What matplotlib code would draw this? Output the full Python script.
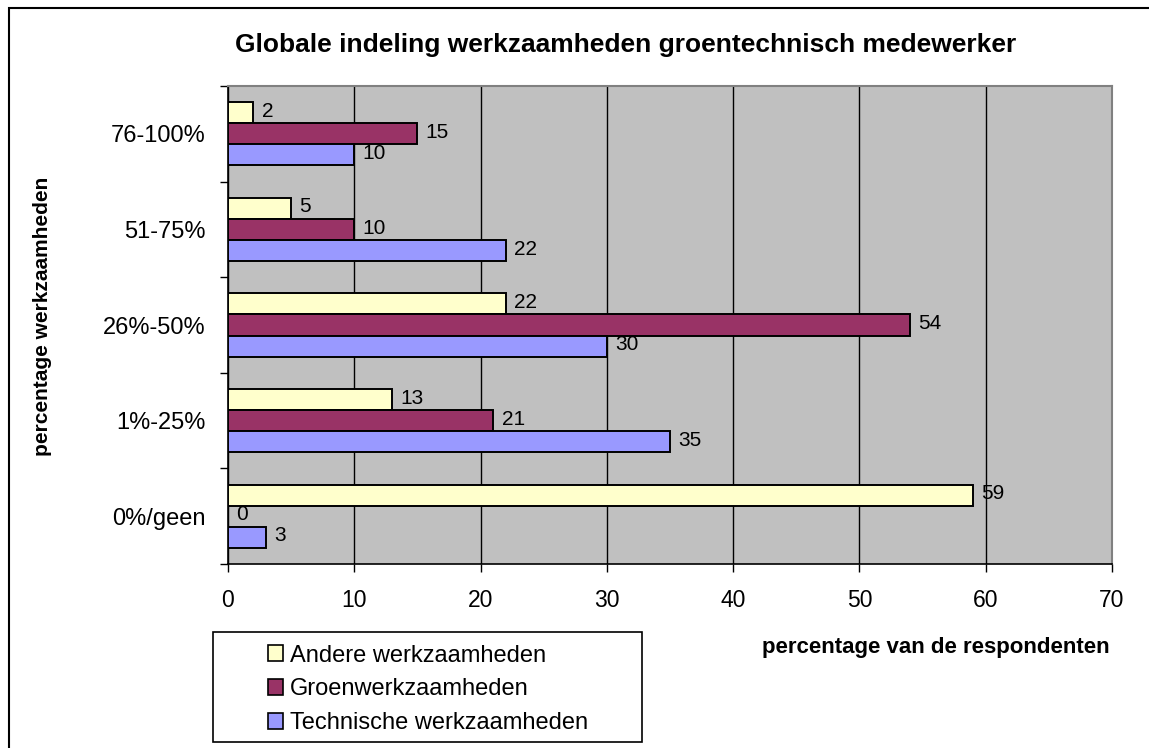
import numpy as np
import matplotlib
matplotlib.use("Agg")
import matplotlib.pyplot as plt
from matplotlib.patches import Rectangle, Patch

plt.rcParams["font.family"] = ["Liberation Sans", "DejaVu Sans"]

categories = ["0%/geen", "1%-25%", "26%-50%", "51-75%", "76-100%"]
andere = [59, 13, 22, 5, 2]
groen = [0, 21, 54, 10, 15]
technisch = [3, 35, 30, 22, 10]
series_names = ["Andere werkzaamheden", "Groenwerkzaamheden", "Technische werkzaamheden"]
colors = ["#FFFFCC", "#993366", "#9999FF"]

W, H = 1149, 748
fig = plt.figure(figsize=(W / 100, H / 100), dpi=100)
ax = fig.add_axes([228 / W, 1 - 564 / H, (1112 - 228) / W, (564 - 86) / H])
ax.set_facecolor("#C0C0C0")

y = np.arange(len(categories))
h = 0.22
for vals, off, col in zip([andere, groen, technisch], [h, 0, -h], colors):
    bars = ax.barh(y + off, vals, height=h, color=col, edgecolor="black", linewidth=1.4, zorder=3)
    for b, v in zip(bars, vals):
        ax.annotate(str(v), (b.get_width(), b.get_y() + b.get_height() / 2),
                    xytext=(6, 1), textcoords="offset points",
                    va="center", ha="left", fontsize=15, zorder=4)

ax.set_xlim(0, 70)
ax.set_ylim(-0.5, len(categories) - 0.5)
ax.set_xticks(np.arange(0, 71, 10))
ax.xaxis.grid(True, color="black", linewidth=1)
ax.set_axisbelow(True)
ax.tick_params(axis="x", direction="out", length=6, width=1, pad=12, labelsize=16.5)

ax.set_yticks(np.arange(-0.5, len(categories), 1))
ax.set_yticklabels([])
ax.set_yticks(y, minor=True)
ax.set_yticklabels(categories, minor=True)
ax.tick_params(axis="y", which="major", direction="out", length=6, width=1)
ax.tick_params(axis="y", which="minor", length=0, pad=16, labelsize=17)

for s in ["top", "right"]:
    ax.spines[s].set_color("#808080")
    ax.spines[s].set_linewidth(1.5)
for s in ["left", "bottom"]:
    ax.spines[s].set_color("black")
    ax.spines[s].set_linewidth(1.2)

fig.text(626 / W, 1 - 45 / H, "Globale indeling werkzaamheden groentechnisch medewerker",
         ha="center", va="center", fontsize=19, fontweight="bold")
fig.text(43 / W, 1 - 316 / H, "percentage werkzaamheden", rotation=90,
         ha="center", va="center", fontsize=15, fontweight="bold")
fig.text(936 / W, 1 - 648 / H, "percentage van de respondenten",
         ha="center", va="center", fontsize=16, fontweight="bold")

# outer chart border
fig.patches.append(Rectangle((9 / W, -0.05), 1.2, 1 - 8 / H + 0.05, transform=fig.transFigure,
                             fill=False, edgecolor="black", linewidth=1.5))
# legend frame
fig.patches.append(Rectangle((213 / W, 6 / H), (642 - 213) / W, (742 - 632) / H,
                             transform=fig.transFigure, fill=False,
                             edgecolor="black", linewidth=1.2))
handles = [Patch(facecolor=c, edgecolor="black", linewidth=1.2) for c in colors]
fig.legend(handles, series_names, loc="upper left", frameon=False,
           bbox_to_anchor=(251 / W, 1 - 628 / H), fontsize=17,
           handlelength=0.65, handleheight=0.65, handletextpad=0.3,
           labelspacing=0.5, borderpad=0.2)

fig.savefig("out.png", dpi=100, facecolor="white")
